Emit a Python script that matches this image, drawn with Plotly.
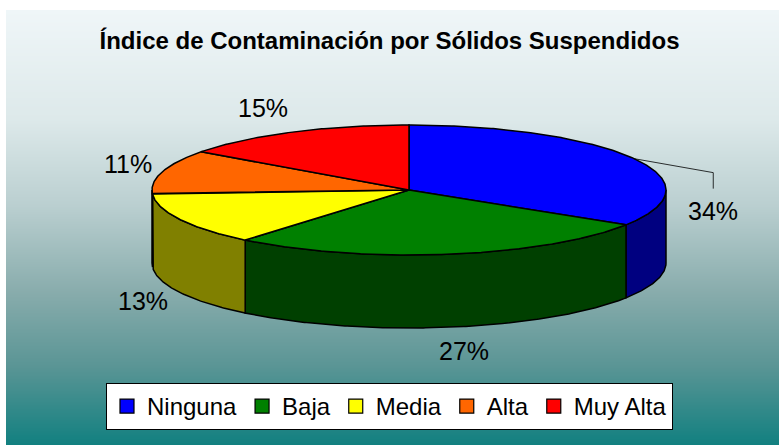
import numpy as np
import plotly.graph_objects as go

# ---------------- data ----------------
categories = ["Ninguna", "Baja", "Media", "Alta", "Muy Alta"]
values = [34, 27, 13, 11, 15]          # percent of samples
chart_title = "Índice de Contaminación por Sólidos Suspendidos"

# ---------------- style ----------------
top_colors = ["#0000FF", "#008000", "#FFFF00", "#FF6600", "#FF0000"]
side_colors = ["#000080", "#004000", "#808000", "#803300", "#800000"]
FONT = "Liberation Sans, Arial, Helvetica, sans-serif"
W, H = 779, 445
# pie geometry in pixel units of the (hidden) axes
CX, CY, RX, RY, DEPTH = 409, 190, 257, 65, 73
# label placement: outward gaps and per-label nudges (Excel best-fit look)
LAB_GX, LAB_GY = 40, 25
label_nudge = {"Ninguna": (44, 64), "Baja": (9, -1), "Media": (-1, -3),
               "Alta": (4, -1), "Muy Alta": (-11, -2)}
leader_for = {"Ninguna"}

total = float(sum(values))
fracs = [v / total for v in values]
starts = np.concatenate([[0.0], np.cumsum(fracs)[:-1]]) * 360.0
ends = np.cumsum(fracs) * 360.0


def ell(theta_deg, dy=0.0):
    t = np.radians(theta_deg)
    return CX + RX * np.sin(t), CY - RY * np.cos(t) + dy


fig = go.Figure()

# background gradient (chart area)
n_rows = 435
grad = np.arange(n_rows).reshape(-1, 1)
fig.add_trace(go.Heatmap(
    z=grad, x0=(6 + W) / 2, dx=W - 6, y0=10.5, dy=1,
    colorscale=[[0.0, "#EFF6F8"], [0.25, "#DDE9EA"], [0.45, "#BACFD0"],
                [0.65, "#88ACAC"], [0.82, "#5A9595"], [1.0, "#128080"]],
    showscale=False, hoverinfo="skip", zsmooth=False))

# side walls (front half only: 90..270 deg)
for i, cat in enumerate(categories):
    lo, hi = max(starts[i], 90.0), min(ends[i], 270.0)
    if hi <= lo:
        continue
    th = np.linspace(lo, hi, max(int((hi - lo) * 2), 2))
    xt, yt = ell(th)
    xb, yb = ell(th[::-1], DEPTH)
    xs = np.concatenate([xt, xb, xt[:1]])
    ys = np.concatenate([yt, yb, yt[:1]])
    fig.add_trace(go.Scatter(x=xs, y=ys, mode="lines", fill="toself",
                             fillcolor=side_colors[i],
                             line=dict(color="black", width=1.5),
                             showlegend=False, hoverinfo="skip"))

# top faces
for i, cat in enumerate(categories):
    th = np.linspace(starts[i], ends[i], max(int((ends[i] - starts[i]) * 2), 2))
    xa, ya = ell(th)
    xs = np.concatenate([[CX], xa, [CX]])
    ys = np.concatenate([[CY], ya, [CY]])
    fig.add_trace(go.Scatter(x=xs, y=ys, mode="lines", fill="toself",
                             fillcolor=top_colors[i],
                             line=dict(color="black", width=1.5),
                             showlegend=False, hoverinfo="skip"))

# labels
annotations = []
for i, cat in enumerate(categories):
    mid = (starts[i] + ends[i]) / 2
    t = np.radians(mid)
    lx = CX + (RX + LAB_GX) * np.sin(t)
    ly = CY - (RY + LAB_GY) * np.cos(t) + (DEPTH if np.cos(t) < 0 else 0)
    nx, ny = label_nudge.get(cat, (0, 0))
    lx, ly = lx + nx, ly + ny
    annotations.append(dict(x=lx, y=ly, xref="x", yref="y", text=f"{values[i]}%",
                            showarrow=False, font=dict(size=25, color="black", family=FONT),
                            xanchor="center", yanchor="middle"))
    if cat in leader_for:
        ex, ey = ell(mid)
        fig.add_trace(go.Scatter(x=[ex, lx, lx], y=[ey, ly - 38, ly - 22], mode="lines",
                                 line=dict(color="black", width=0.8),
                                 showlegend=False, hoverinfo="skip"))

# legend entries
for i, cat in enumerate(categories):
    fig.add_trace(go.Scatter(x=[None], y=[None], mode="markers", name=cat,
                             marker=dict(symbol="square", size=14, color=top_colors[i],
                                         line=dict(color="black", width=1.2)),
                             showlegend=True, hoverinfo="skip"))

fig.update_layout(
    width=W, height=H,
    margin=dict(l=0, r=0, t=0, b=0),
    paper_bgcolor="white", plot_bgcolor="white",
    title=dict(text=chart_title, x=0.5, xanchor="center", y=1 - 41 / H, yanchor="middle",
               font=dict(size=24, color="black", family=FONT, weight=700)),
    xaxis=dict(range=[0, W], visible=False, fixedrange=True),
    yaxis=dict(range=[H, 0], visible=False, fixedrange=True),
    legend=dict(orientation="h", x=0.5, xanchor="center", y=1 - 383 / H, yanchor="top",
                bgcolor="white", bordercolor="black", borderwidth=1,
                font=dict(size=24, color="black", family=FONT),
                itemwidth=30, traceorder="normal"),
    annotations=annotations,
    showlegend=True,
)

fig.write_html("out.html", config={"displayModeBar": False},
               post_script="document.body.style.margin='0';document.body.style.overflow='hidden';")
